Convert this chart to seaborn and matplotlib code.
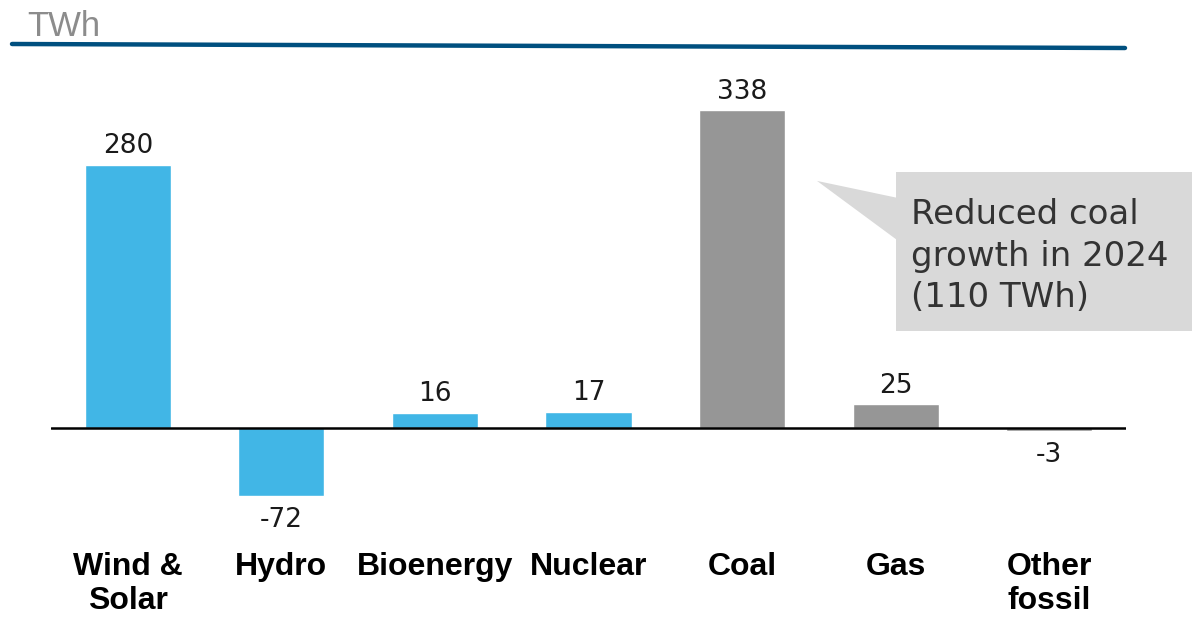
import matplotlib
matplotlib.use("Agg")
from matplotlib import pyplot as plt
from matplotlib.patches import Rectangle, Polygon
import seaborn as sns
import pandas as pd

# --- data
categories = ["Wind &\nSolar", "Hydro", "Bioenergy", "Nuclear", "Coal", "Gas", "Other\nfossil"]
values = [280, -72, 16, 17, 338, 25, -3]
groups = ["clean", "clean", "clean", "clean", "fossil", "fossil", "fossil"]
group_colors = {"clean": "#41B6E6", "fossil": "#969696"}
unit_label = "TWh"
callout_text = "Reduced coal\ngrowth in 2024\n(110 TWh)"

df = pd.DataFrame({"category": categories, "value": values, "group": groups})

sns.set_theme(style="white")
plt.rcParams["font.family"] = ["Liberation Sans", "DejaVu Sans"]

fig = plt.figure(figsize=(12.04, 6.20), dpi=100)
ax = fig.add_axes([51 / 1204, 0.1582, 1075 / 1204, 0.7273])

sns.barplot(data=df, x="category", y="value", hue="group", palette=group_colors,
            width=0.56, dodge=False, legend=False, saturation=1, ax=ax)

ax.set_xlim(-0.5, 6.5)
ax.set_ylim(-100, 380)
ax.axhline(0, color="black", lw=1.8, zorder=3)

# value labels
lab_font = ["DejaVu Sans"]
for i, v in enumerate(values):
    if v >= 0:
        ax.text(i, v + 6, f"{v}", ha="center", va="bottom", fontsize=19,
                color="#1a1a1a", family=lab_font)
    else:
        ax.text(i, v - 12, f"{v}", ha="center", va="top", fontsize=19,
                color="#1a1a1a", family=lab_font)

for s in ax.spines.values():
    s.set_visible(False)
ax.set_yticks([])
ax.set_xlabel("")
ax.set_ylabel("")
ax.tick_params(axis="x", length=0, pad=22)
for lbl in ax.get_xticklabels():
    lbl.set_fontsize(23)
    lbl.set_fontweight("bold")
    lbl.set_color("black")
    lbl.set_linespacing(1.15)

# callout box with tail pointing at the coal bar
ax.add_patch(Rectangle((5.002, 103), 1.93, 169, facecolor="#D9D9D9",
                       edgecolor="none", clip_on=False, zorder=2))
ax.add_patch(Polygon([(4.488, 263), (5.01, 245), (5.01, 200)], closed=True,
                     facecolor="#D9D9D9", edgecolor="none", clip_on=False, zorder=2))
ax.text(5.1, 183, callout_text, ha="left", va="center", fontsize=24.5,
        color="#333333", linespacing=1.32, family=lab_font, zorder=4)

# header: unit and rule
fig.text(27 / 1204, 1 - 26 / 620, unit_label, ha="left", va="center", fontsize=25,
         color="#8c8c8c", family=["Liberation Sans Narrow", "Liberation Sans"])
fig.add_artist(plt.Line2D([12 / 1204, 1125 / 1204], [1 - 44 / 620, 1 - 48 / 620],
                          color="#00507F", lw=3.2, transform=fig.transFigure))

fig.savefig("out.png", dpi=100)
